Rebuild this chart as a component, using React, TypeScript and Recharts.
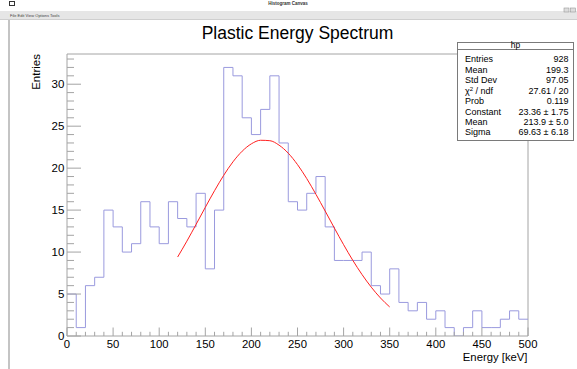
import { ComposedChart, Line, XAxis, YAxis, ReferenceLine } from "recharts";

// counts per 10 keV bin, 0..500 keV
const counts = [
  5, 1, 6, 7, 15, 13, 10, 11, 16, 13,
  11, 16, 14, 13, 17, 8, 15, 32, 31, 26,
  24, 27, 31, 23, 16, 15, 17, 19, 13, 9,
  9, 9, 10, 6, 5, 8, 4, 3, 4, 2,
  3, 1, 0, 1, 3, 1, 1, 2, 3, 2,
];
const BIN_WIDTH = 10;

// gaus fit curve
const fitEnergy = [120, 130, 140, 150, 160, 170, 180, 190, 200, 210, 220, 230, 240, 250, 260, 270, 280, 290, 300, 310, 320, 330, 340, 350];
const fitValues = [9.41, 11.3, 13.3, 15.33, 17.31, 19.15, 20.75, 22.02, 22.9, 23.32, 23.27, 22.74, 21.78, 20.42, 18.76, 16.88, 14.89, 12.86, 10.88, 9.01, 7.32, 5.82, 4.53, 3.46];

const xMajorTicks = [0, 50, 100, 150, 200, 250, 300, 350, 400, 450, 500];
const yMajorTicks = [0, 5, 10, 15, 20, 25, 30];
const xMinorTicks = Array.from({ length: 51 }, (_, i) => i * 10);
const yMinorTicks = Array.from({ length: 34 }, (_, i) => i);

const statsRows = [
  ["Entries", "928"],
  ["Mean", "199.3"],
  ["Std Dev", "97.05"],
  ["chi", "27.61 / 20"],
  ["Prob", "0.119"],
  ["Constant", "23.36 \u00b1 1.75"],
  ["Mean", "213.9 \u00b1 5.0"],
  ["Sigma", "69.63 \u00b1 6.18"],
];

const W = 577;
const H = 369;
const Y_MAX = 33.6;
const AXIS = "#a4a4a4";
const FONT = "'Liberation Sans', Arial, Helvetica, sans-serif";

const histData = [
  ...counts.map((c, i) => ({ x: i * BIN_WIDTH, hist: c })),
  { x: counts.length * BIN_WIDTH, hist: counts[counts.length - 1] },
];
const fitData = fitEnergy.map((e, i) => ({ x: e, fit: fitValues[i] }));

function XTick({ x, y, payload }: any) {
  const v = payload.value;
  const major = xMajorTicks.includes(v);
  return (
    <g>
      <line x1={x} x2={x} y1={y} y2={y - (major ? 8.5 : 4.2)} stroke={AXIS} />
      {major && (
        <text x={x} y={y + 11.8} textAnchor="middle" fontSize={11.3} fontFamily={FONT} fill="#000">
          {v}
        </text>
      )}
    </g>
  );
}

function YTick({ x, y, payload }: any) {
  const v = payload.value;
  const major = yMajorTicks.includes(v);
  return (
    <g>
      <line x1={x} x2={x + (major ? 14 : 7)} y1={y} y2={y} stroke={AXIS} />
      {major && (
        <text x={x - 2.7} y={y + 4.2} textAnchor="end" fontSize={11.5} fontFamily={FONT} fill="#000">
          {v}
        </text>
      )}
    </g>
  );
}

export default function App() {
  return (
    <div style={{ position: "absolute", left: 0, top: 0, width: W, height: H, background: "#fff" }}>
      <ComposedChart
        width={W}
        height={H}
        margin={{ top: 54, right: 49, bottom: 3, left: 7 }}
      >
        <XAxis
          type="number"
          dataKey="x"
          domain={[0, 500]}
          ticks={xMinorTicks}
          interval={0}
          tickSize={0}
          tickMargin={0}
          tickLine={false}
          tick={<XTick />}
          stroke={AXIS}
          height={30}
          allowDataOverflow
        />
        <YAxis
          type="number"
          domain={[0, Y_MAX]}
          ticks={yMinorTicks}
          interval={0}
          tickSize={0}
          tickMargin={0}
          tickLine={false}
          tick={<YTick />}
          stroke={AXIS}
          width={60}
          allowDataOverflow
        />
        <ReferenceLine y={Y_MAX} stroke={AXIS} />
        <ReferenceLine x={500} stroke={AXIS} />
        <Line
          data={histData}
          dataKey="hist"
          type="stepAfter"
          stroke="#9a9ade"
          strokeWidth={1}
          dot={false}
          activeDot={false}
          isAnimationActive={false}
        />
        <Line
          data={fitData}
          dataKey="fit"
          type="monotone"
          stroke="#ff2020"
          strokeWidth={1}
          dot={false}
          activeDot={false}
          isAnimationActive={false}
        />
      </ComposedChart>

      <svg
        width={W}
        height={H}
        style={{ position: "absolute", left: 0, top: 0, pointerEvents: "none" }}
        fontFamily={FONT}
      >
        {/* window chrome */}
        <rect x={9.5} y={1.5} width={5} height={4} fill="none" stroke="#333" strokeWidth={1} />
        <text x={288} y={5} textAnchor="middle" fontSize={4.5} fontWeight="bold" fill="#333">
          Histogram Canvas
        </text>
        <rect x={0} y={11} width={W} height={8} fill="#e6e6e6" />
        <line x1={0} x2={W} y1={19.5} y2={19.5} stroke="#cfcfcf" />
        <text x={10} y={16.5} fontSize={4} fill="#444">
          File  Edit  View  Options  Tools
        </text>
        <rect x={564} y={8} width={5} height={4} fill="#ddd" stroke="#999" strokeWidth={0.6} />
        <rect x={570.5} y={8} width={5} height={4} fill="#ddd" stroke="#999" strokeWidth={0.6} />
        <line x1={9} x2={9} y1={20} y2={H} stroke="#c4c4c4" strokeWidth={2} />

        {/* title and axis titles */}
        <text x={297.5} y={39} textAnchor="middle" fontSize={17.5} fill="#000">
          Plastic Energy Spectrum
        </text>
        <text x={527.5} y={360.5} textAnchor="end" fontSize={11.3} fill="#000">
          Energy [keV]
        </text>
        <text
          x={0}
          y={0}
          transform="translate(39.5,54) rotate(-90)"
          textAnchor="end"
          fontSize={11.5}
          fill="#000"
        >
          Entries
        </text>

        {/* stats box */}
        <rect x={457.5} y={42.5} width={116} height={98} fill="#fff" stroke="#7a7a7a" strokeWidth={1} />
        <line x1={457.5} x2={573.5} y1={49.5} y2={49.5} stroke="#7a7a7a" />
        <text x={515.5} y={48} textAnchor="middle" fontSize={8.5} fill="#000">
          hp
        </text>
        {statsRows.map(([label, value], i) => {
          const by = 62.2 + i * 10.47;
          return (
            <g key={i}>
              {label === "chi" ? (
                <text x={465} y={by} fontSize={9} fill="#000">
                  {"\u03c7"}
                  <tspan fontSize={6} dy={-3}>2</tspan>
                  <tspan dy={3}>{" / ndf"}</tspan>
                </text>
              ) : (
                <text x={465} y={by} fontSize={9} fill="#000">
                  {label}
                </text>
              )}
              <text x={568.5} y={by} textAnchor="end" fontSize={9} fill="#000">
                {value}
              </text>
            </g>
          );
        })}
      </svg>
    </div>
  );
}
